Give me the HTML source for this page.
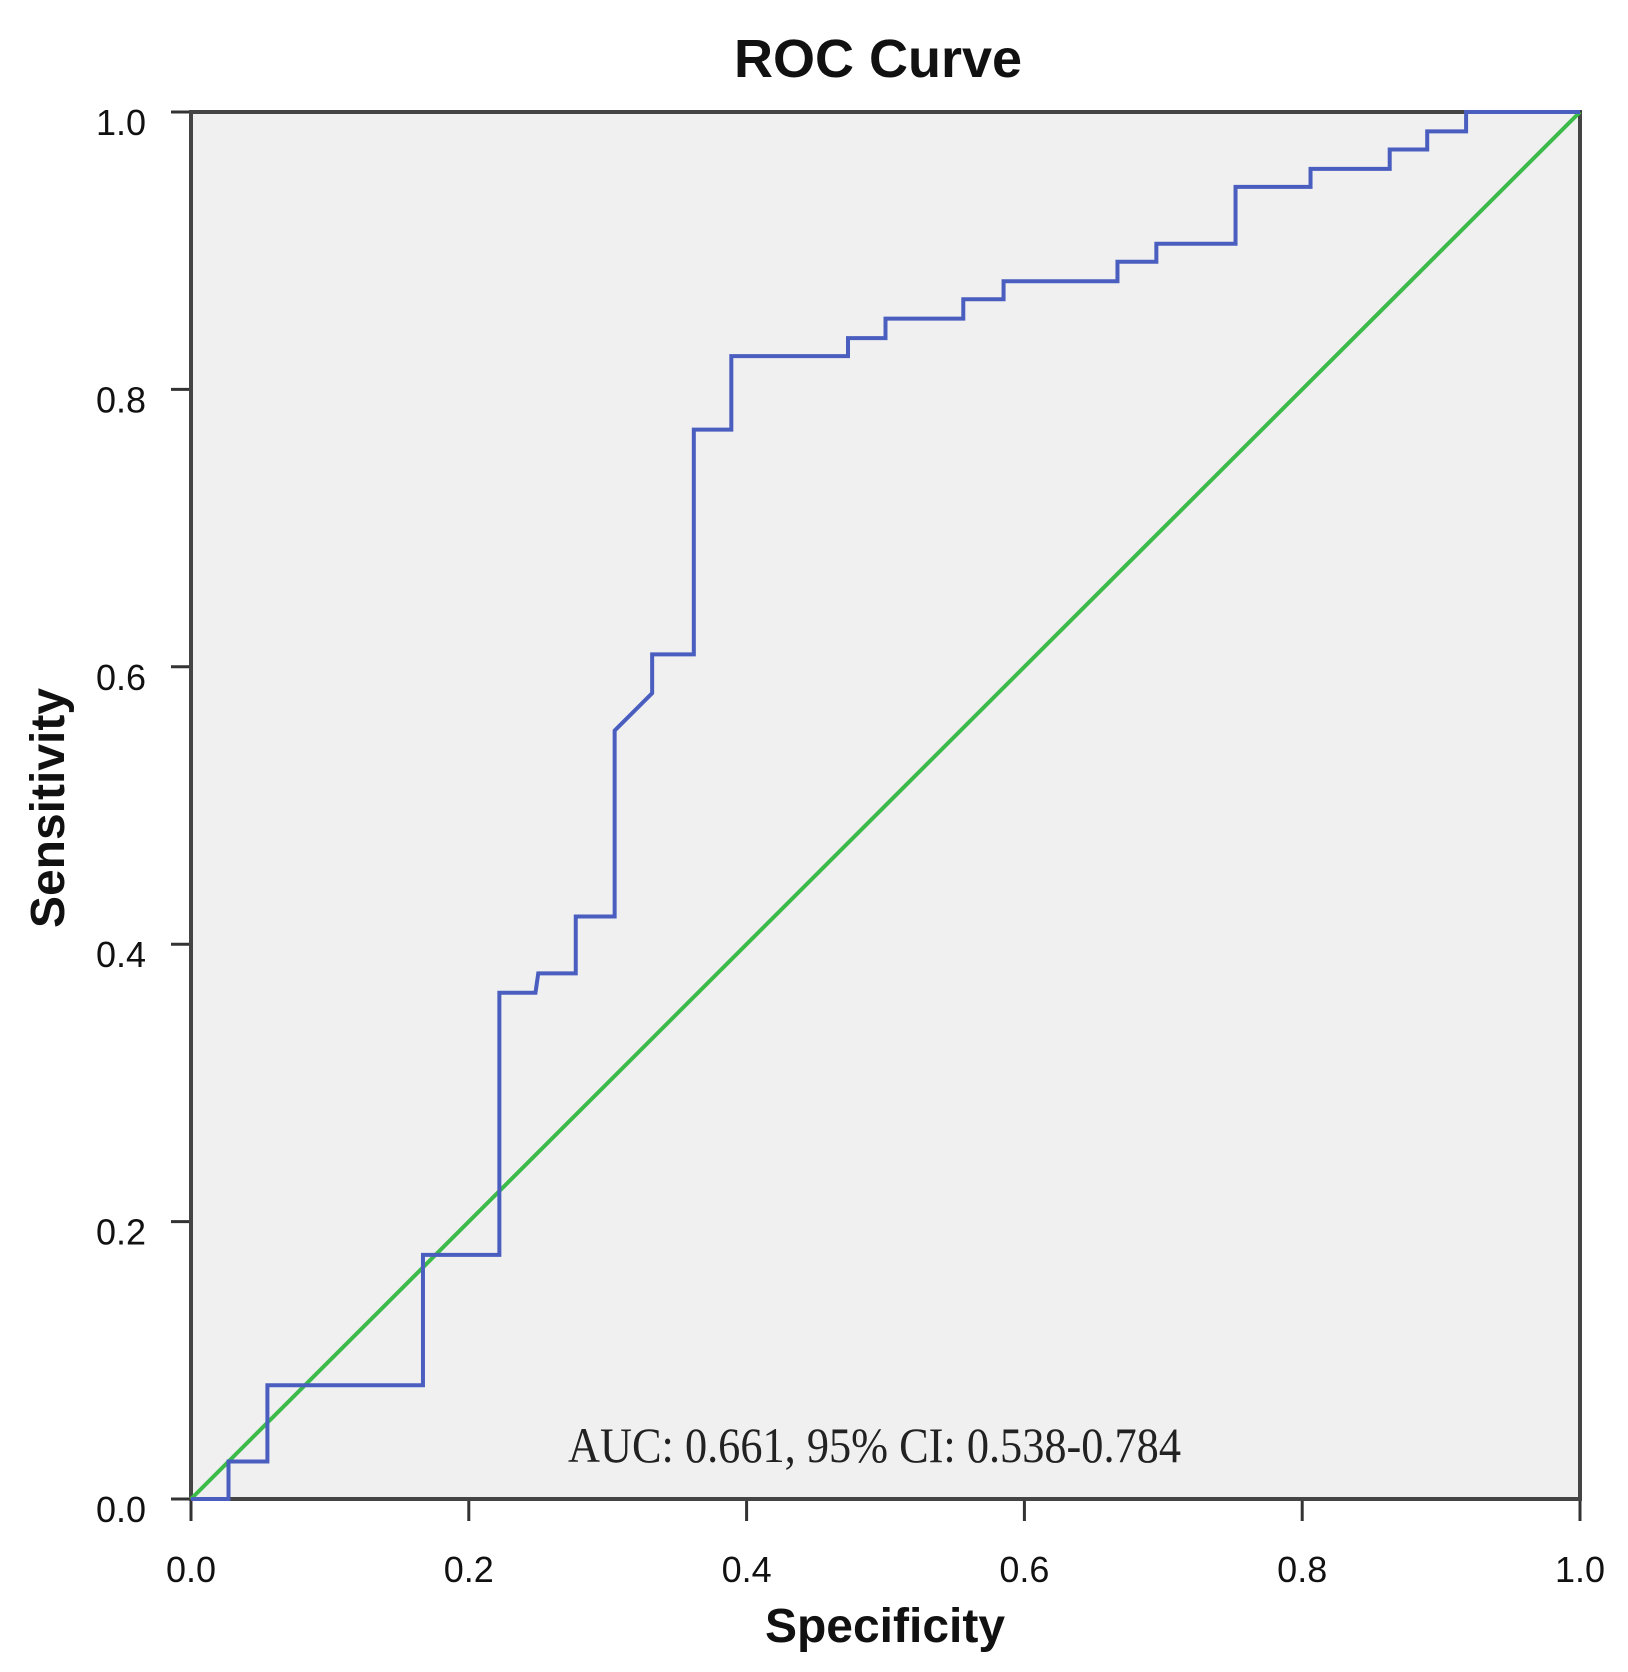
<!DOCTYPE html>
<html><head><meta charset="utf-8"><style>
html,body{margin:0;padding:0;background:#fff;}
svg{display:block;}
</style></head><body>
<svg id="chart" width="1628" height="1672" viewBox="0 0 1628 1672" xmlns="http://www.w3.org/2000/svg">
<rect x="191" y="112" width="1389" height="1387" fill="#f0f0f0"/>
<text x="878" y="77" text-anchor="middle" font-family="Liberation Sans, sans-serif" font-weight="bold" font-size="54" fill="#111">ROC Curve</text>
<g id="axes"></g>
<g id="series"></g>
<text x="568" y="1462" textLength="613" lengthAdjust="spacingAndGlyphs" font-family="Liberation Serif, serif" font-size="50" fill="#222">AUC: 0.661, 95% CI: 0.538-0.784</text>
<text x="885" y="1642" text-anchor="middle" font-family="Liberation Sans, sans-serif" font-weight="bold" font-size="48" fill="#111">Specificity</text>
<text transform="translate(64,808) rotate(-90)" text-anchor="middle" font-family="Liberation Sans, sans-serif" font-weight="bold" font-size="48" fill="#111">Sensitivity</text>
</svg>
<script>
const xTicks = [0, 0.2, 0.4, 0.6, 0.8, 1.0];
const yTicks = [0, 0.2, 0.4, 0.6, 0.8, 1.0];
const tickLabels = ["0.0", "0.2", "0.4", "0.6", "0.8", "1.0"];
const rocX = [0,0.027,0.027,0.055,0.055,0.167,0.167,0.222,0.222,0.248,0.250,0.277,0.277,0.305,0.305,0.332,0.332,0.362,0.362,0.389,0.389,0.473,0.473,0.5,0.5,0.556,0.556,0.585,0.585,0.667,0.667,0.695,0.695,0.752,0.752,0.806,0.806,0.863,0.863,0.89,0.89,0.918,0.918,1.0];
const rocY = [0,0,0.027,0.027,0.082,0.082,0.176,0.176,0.365,0.365,0.379,0.379,0.42,0.42,0.554,0.581,0.609,0.609,0.771,0.771,0.824,0.824,0.837,0.837,0.851,0.851,0.865,0.865,0.878,0.878,0.892,0.892,0.905,0.905,0.946,0.946,0.959,0.959,0.973,0.973,0.986,0.986,1.0,1.0];
const refX = [0, 1];
const refY = [0, 1];

const L=191,R=1580,T=112,B=1499;
const sx=v=>L+v*(R-L);
const sy=v=>B-v*(B-T);
const NS="http://www.w3.org/2000/svg";
const axes=document.getElementById('axes');
const series=document.getElementById('series');
function mk(tag,attrs,parent){const e=document.createElementNS(NS,tag);for(const k in attrs)e.setAttribute(k,attrs[k]);parent.appendChild(e);return e;}

xTicks.forEach((v,i)=>{
  const t=mk('line',{x1:sx(v),x2:sx(v),y1:B,y2:B+22,stroke:'#333','stroke-width':3},axes);
  
  
  const tx=mk('text',{x:sx(v),y:1582,'text-anchor':'middle','font-family':'Liberation Sans, sans-serif','font-size':36,fill:'#111'},axes);
  tx.textContent=tickLabels[i];
  
  
});
yTicks.forEach((v,i)=>{
  const t=mk('line',{x1:L-20,x2:L,y1:sy(v),y2:sy(v),stroke:'#333','stroke-width':3},axes);
  
  
  const tx=mk('text',{x:146,y:sy(v)+23,'text-anchor':'end','font-family':'Liberation Sans, sans-serif','font-size':36,fill:'#111'},axes);
  tx.textContent=tickLabels[i];
  
  
});
const frame=mk('rect',{x:L,y:T,width:R-L,height:B-T,fill:'none',stroke:'#444','stroke-width':4},axes);



const ref=mk('polyline',{points:refX.map((v,i)=>sx(v)+','+sy(refY[i])).join(' '),fill:'none',stroke:'#3cba4a','stroke-width':4},series);


const roc=mk('polyline',{points:rocX.map((v,i)=>sx(v)+','+sy(rocY[i])).join(' '),fill:'none',stroke:'#4a5ec0','stroke-width':4,'stroke-linejoin':'miter'},series);


</script>
</body></html>
